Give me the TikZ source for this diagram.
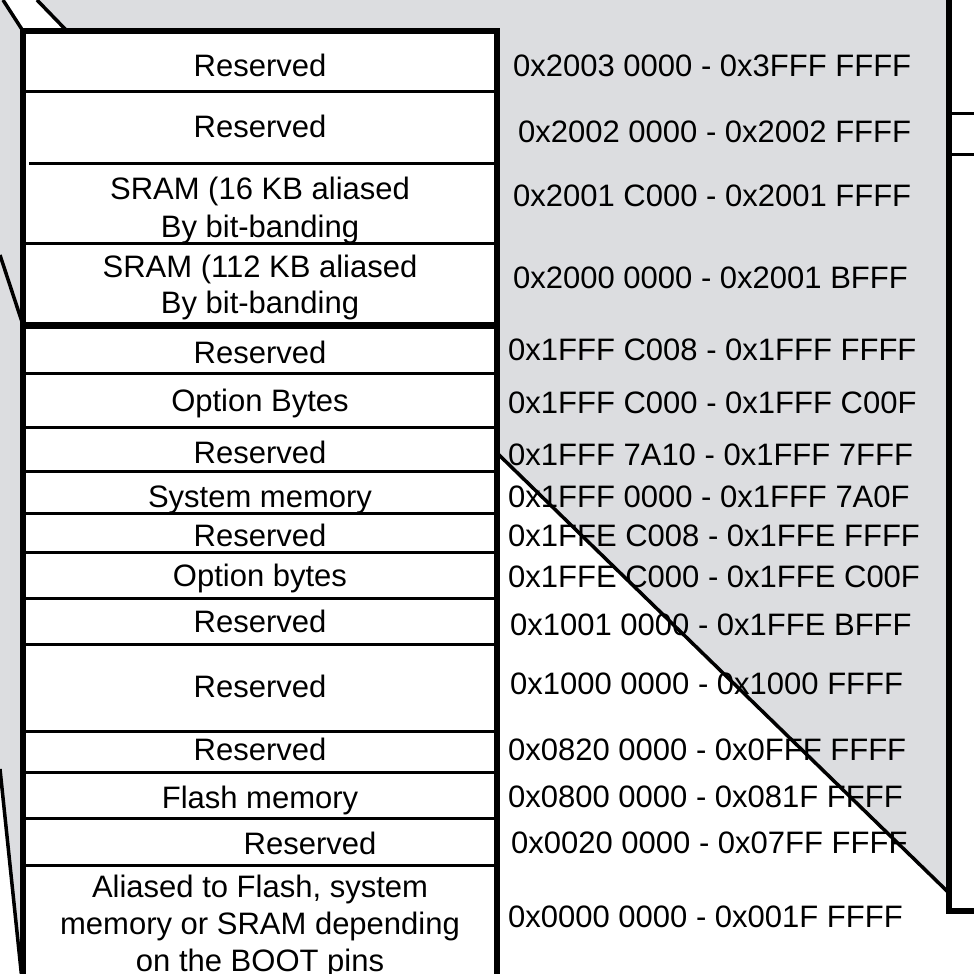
\documentclass[tikz,border=0pt]{standalone}
\usepackage{fontspec}
\setmainfont{Liberation Sans}
\definecolor{fangray}{RGB}{220,221,224}
\begin{document}
\begin{tikzpicture}[x=1pt,y=-1pt,
  fan/.style={fill=fangray},
  fanline/.style={line width=3.5pt},
  frame/.style={line width=6.5pt},
  rule/.style={line width=3pt},
  heavyrule/.style={line width=7pt},
  lbl/.style={inner sep=0pt, anchor=base, font=\fontsize{31}{37}\selectfont},
  addr/.style={inner sep=0pt, anchor=base west, font=\fontsize{31}{37}\selectfont}]
\useasboundingbox (0,0) rectangle (974,974);
\clip (0,0) rectangle (974,974);

% shaded fan-out regions
\fill[fan] (0,0) -- (3,0) -- (23,31) -- (23,980) -- (22,980) -- (0,769) -- cycle;
\fill[fan] (37,0) -- (949,0) -- (949,893) -- (497,453) -- (497,31) -- (67,31) -- cycle;

% fan-out edges
\draw[fanline] (3,0) -- (23,31);
\draw[fanline] (37,0) -- (67,31);
\draw[fanline] (0,255) -- (23,325);
\draw[fanline] (0,769) -- (22,980);
\draw[fanline] (497,453) -- (949,893);

% detailed memory map column
\fill[white] (23,31) rectangle (497,990);
\draw[rule] (23,91) -- (497,91);
\draw[rule] (29,163) -- (500,163);
\draw[rule] (23,243) -- (497,243);
\draw[heavyrule] (20,325) -- (500,325);
\foreach \yy in {373,427,471,513,552,598,644,731,772,818,865}
  \draw[rule] (23,\yy) -- (497,\yy);
\draw[frame] (23,990) -- (23,31) -- (497,31) -- (497,990);

% overview column on the right
\fill[white] (949,-10) rectangle (990,911);
\draw[rule] (949,113) -- (990,113);
\draw[rule] (949,154) -- (990,154);
\draw[frame] (949,-10) -- (949,911) -- (990,911);

% region names
\node[lbl] (r1) at (260,77) {Reserved};
\node[lbl] (r2) at (260,137) {Reserved};
\node[lbl] (r3a) at (260,199) {SRAM (16 KB aliased};
\node[lbl] (r3b) at (260,237) {By bit-banding};
\node[lbl] (r4a) at (260,277) {SRAM (112 KB aliased};
\node[lbl] (r4b) at (260,313) {By bit-banding};
\node[lbl] (r5) at (260,363) {Reserved};
\node[lbl] (r6) at (260,411) {Option Bytes};
\node[lbl] (r7) at (260,463) {Reserved};
\node[lbl] (r8) at (260,507) {System memory};
\node[lbl] (r9) at (260,546) {Reserved};
\node[lbl] (r10) at (260,586) {Option bytes};
\node[lbl] (r11) at (260,632) {Reserved};
\node[lbl] (r12) at (260,697) {Reserved};
\node[lbl] (r13) at (260,760) {Reserved};
\node[lbl] (r14) at (260,808) {Flash memory};
\node[lbl] (r15) at (310,854) {Reserved};
\node[lbl] (r16a) at (260,897) {Aliased to Flash, system};
\node[lbl] (r16b) at (260,934) {memory or SRAM depending};
\node[lbl] (r16c) at (260,971) {on the BOOT pins};

% address ranges
\node[addr] (a1) at (513,77) {0x2003 0000 - 0x3FFF FFFF};
\node[addr] (a2) at (518,142) {0x2002 0000 - 0x2002 FFFF};
\node[addr] (a3) at (513,206) {0x2001 C000 - 0x2001 FFFF};
\node[addr] (a4) at (513,288) {0x2000 0000 - 0x2001 BFFF};
\node[addr] (a5) at (508,360) {0x1FFF C008 - 0x1FFF FFFF};
\node[addr] (a6) at (508,413) {0x1FFF C000 - 0x1FFF C00F};
\node[addr] (a7) at (508,465) {0x1FFF 7A10 - 0x1FFF 7FFF};
\node[addr] (a8) at (508,507) {0x1FFF 0000 - 0x1FFF 7A0F};
\node[addr] (a9) at (508,546) {0x1FFE C008 - 0x1FFE FFFF};
\node[addr] (a10) at (508,587) {0x1FFE C000 - 0x1FFE C00F};
\node[addr] (a11) at (510,635) {0x1001 0000 - 0x1FFE BFFF};
\node[addr] (a12) at (510,694) {0x1000 0000 - 0x1000 FFFF};
\node[addr] (a13) at (508,760) {0x0820 0000 - 0x0FFF FFFF};
\node[addr] (a14) at (508,807) {0x0800 0000 - 0x081F FFFF};
\node[addr] (a15) at (511,853) {0x0020 0000 - 0x07FF FFFF};
\node[addr] (a16) at (508,927) {0x0000 0000 - 0x001F FFFF};
\end{tikzpicture}
\end{document}
